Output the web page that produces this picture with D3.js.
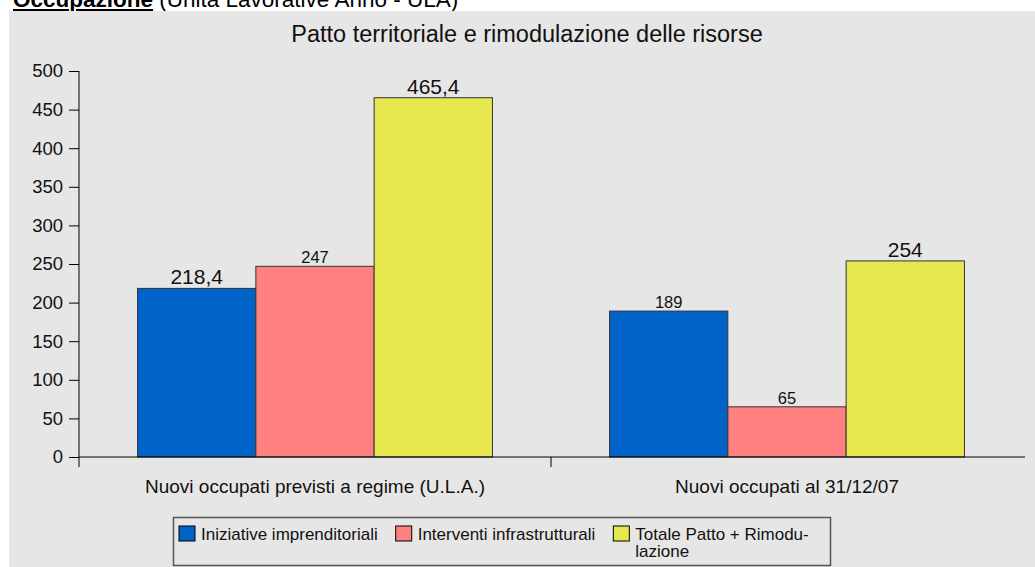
<!DOCTYPE html>
<html>
<head>
<meta charset="utf-8">
<script src="https://cdn.jsdelivr.net/npm/d3@7"></script>
<style>
  html, body { margin: 0; padding: 0; background: #ffffff; }
  svg { display: block; font-family: Arial, "Liberation Sans", sans-serif; }
</style>
</head>
<body>
<script>
// data
const categories = ["Nuovi occupati previsti a regime (U.L.A.)", "Nuovi occupati al 31/12/07"];
const seriesNames = ["Iniziative imprenditoriali", "Interventi infrastrutturali", "Totale Patto + Rimodulazione"];
const legendLines = [["Iniziative imprenditoriali"], ["Interventi infrastrutturali"], ["Totale Patto + Rimodu-", "lazione"]];
const values = [
  [218.4, 247, 465.4],
  [189, 65, 254]
];
const yTicks = [0, 50, 100, 150, 200, 250, 300, 350, 400, 450, 500];

const colors = ["#0063c8", "#ff8080", "#e6e64e"];
// labels drawn with the larger font in the original
const bigLabel = [[true, false, true], [false, false, true]];

const W = 1035, H = 567;
const margin = { left: 79, right: 1023, top: 71, bottom: 457 };

const svg = d3.select("body").append("svg")
  .attr("width", W)
  .attr("height", H);

// header above the chart, partly cut off
const header = svg.append("text")
  .attr("x", 13)
  .attr("y", 7)
  .attr("font-size", "22.5px")
  .attr("fill", "#000");
header.append("tspan")
  .attr("font-weight", "bold")
  .attr("text-decoration", "underline")
  .text("Occupazione");
header.append("tspan")
  .text(" (Unità Lavorative Anno - ULA)");

svg.append("rect")
  .attr("x", 9)
  .attr("y", 11)
  .attr("width", W - 9)
  .attr("height", H - 11)
  .attr("fill", "#e6e6e6");

svg.append("text")
  .attr("x", 527)
  .attr("y", 42)
  .attr("text-anchor", "middle")
  .attr("font-size", "23.5px")
  .attr("fill", "#111")
  .text("Patto territoriale e rimodulazione delle risorse");

const y = d3.scaleLinear()
  .domain([0, 500])
  .range([margin.bottom, margin.top]);

const x0 = d3.scaleBand()
  .domain(categories)
  .range([margin.left, margin.right]);

const x1 = d3.scaleBand()
  .domain(d3.range(seriesNames.length))
  .range([0, x0.bandwidth()])
  .paddingOuter(0.495);

// bars
const groups = svg.append("g")
  .selectAll("g")
  .data(categories)
  .join("g")
  .attr("transform", d => `translate(${x0(d)},0)`);

groups.selectAll("rect")
  .data((d, i) => values[i].map((v, j) => ({ v, j })))
  .join("rect")
  .attr("x", d => x1(d.j))
  .attr("y", d => y(d.v))
  .attr("width", x1.bandwidth())
  .attr("height", d => y(0) - y(d.v))
  .attr("fill", d => colors[d.j])
  .attr("stroke", "#333")
  .attr("stroke-width", 1);

groups.selectAll("text")
  .data((d, i) => values[i].map((v, j) => ({ v, j, big: bigLabel[i][j] })))
  .join("text")
  .attr("x", d => x1(d.j) + x1.bandwidth() / 2)
  .attr("y", d => y(d.v) - (d.big ? 4 : 3))
  .attr("text-anchor", "middle")
  .attr("font-size", d => d.big ? "21px" : "16.5px")
  .attr("fill", "#111")
  .text(d => String(d.v).replace(".", ","));

// y axis
const yAxis = svg.append("g")
  .attr("transform", `translate(${margin.left},0)`)
  .call(d3.axisLeft(y).tickValues(yTicks).tickSize(10).tickPadding(6));
yAxis.select(".domain").remove();
yAxis.selectAll("line").attr("stroke", "#000");
yAxis.selectAll("text")
  .attr("font-size", "18.5px")
  .attr("font-family", "Arial, 'Liberation Sans', sans-serif")
  .attr("fill", "#111");

svg.append("line")
  .attr("x1", margin.left).attr("x2", margin.left)
  .attr("y1", margin.top).attr("y2", margin.bottom + 10)
  .attr("stroke", "#000");

// x axis
svg.append("line")
  .attr("x1", margin.left).attr("x2", margin.right + 2)
  .attr("y1", margin.bottom).attr("y2", margin.bottom)
  .attr("stroke", "#000");

svg.append("g")
  .selectAll("line")
  .data(categories.slice(1))
  .join("line")
  .attr("x1", d => x0(d)).attr("x2", d => x0(d))
  .attr("y1", margin.bottom).attr("y2", margin.bottom + 10)
  .attr("stroke", "#000");

svg.append("g")
  .selectAll("text")
  .data(categories)
  .join("text")
  .attr("x", d => x0(d) + x0.bandwidth() / 2)
  .attr("y", 493)
  .attr("text-anchor", "middle")
  .attr("font-size", "19px")
  .attr("fill", "#111")
  .text(d => d);

// legend
svg.append("rect")
  .attr("x", 173.5)
  .attr("y", 517.5)
  .attr("width", 657)
  .attr("height", 48)
  .attr("fill", "#e6e6e6")
  .attr("stroke", "#555")
  .attr("stroke-width", 1.5);

let lx = 179;
seriesNames.forEach((name, i) => {
  const item = svg.append("g");
  item.append("rect")
    .attr("x", lx)
    .attr("y", 526)
    .attr("width", 16)
    .attr("height", 15)
    .attr("fill", colors[i])
    .attr("stroke", "#000")
    .attr("stroke-width", 1);
  const t = item.append("text")
    .attr("font-size", "17px")
    .attr("fill", "#111");
  legendLines[i].forEach((line, k) => {
    t.append("tspan")
      .attr("x", lx + 22)
      .attr("y", 540 + k * 17)
      .text(line);
  });
  lx += 22 + t.node().getBBox().width + 18;
});
</script>
</body>
</html>
